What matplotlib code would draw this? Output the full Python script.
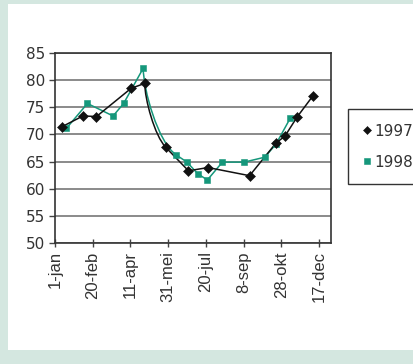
import numpy as np
import matplotlib
matplotlib.use("Agg")
import matplotlib.pyplot as plt
from matplotlib.path import Path
from matplotlib.patches import PathPatch, Rectangle
from matplotlib.lines import Line2D

# Day of year (1-jan = 0) and measured values
days_1997 = [9, 37, 55, 101, 119, 147, 177, 203, 258, 293, 305, 321, 342]
vals_1997 = [71.4, 73.4, 73.3, 78.5, 79.4, 67.6, 63.3, 63.9, 62.4, 68.4, 69.7, 73.2, 77.1]

days_1998 = [15, 43, 77, 91, 117, 161, 175, 189, 202, 222, 251, 278, 293, 312]
vals_1998 = [71.1, 75.7, 73.4, 75.7, 82.2, 66.2, 64.9, 62.8, 61.6, 64.9, 64.9, 65.8, 68.2, 73.0]

tick_days = [0, 50, 100, 150, 200, 250, 300, 350]
tick_labels = ["1-jan", "20-feb", "11-apr", "31-mei", "20-jul", "8-sep", "28-okt", "17-dec"]
y_ticks = [50, 55, 60, 65, 70, 75, 80, 85]

GREEN = "#15977b"
BG = "#d4e7e0"

W, H = 413, 364
fig = plt.figure(figsize=(W / 100, H / 100), dpi=100, facecolor=BG)
fig.patches.append(Rectangle((8 / W, 1 - 350 / H), 1, (350 - 4) / H,
                             transform=fig.transFigure, facecolor="white",
                             edgecolor="none", zorder=-10))

ax = fig.add_axes([55 / W, 1 - 243 / H, (331 - 55) / W, (243 - 53) / H])
ax.set_facecolor("white")
ax.set_xlim(0, 366)
ax.set_ylim(50, 85)


def series_path(xs, ys, ease=0.24):
    """Straight segments, with an easing curve on the drop after the peak."""
    pts = ax.transData.transform(np.column_stack([xs, ys]).astype(float))
    peak = int(np.argmax(ys))
    verts = [pts[0]]
    codes = [Path.MOVETO]
    for i in range(len(pts) - 1):
        p1, p2 = pts[i], pts[i + 1]
        if i == peak and i + 2 < len(pts):
            chord = np.hypot(*(p2 - p1))
            nxt = pts[i + 2] - p2
            nxt = nxt / np.hypot(*nxt)
            c1 = p1 + np.array([0.0, ease * (p2[1] - p1[1])])
            c2 = p2 - ease * chord * nxt
            verts += [c1, c2, p2]
            codes += [Path.CURVE4] * 3
        else:
            verts.append(p2)
            codes.append(Path.LINETO)
    verts = ax.transData.inverted().transform(np.array(verts))
    return Path(verts, codes)


for xs, ys, col, mk, ms in [(days_1998, vals_1998, GREEN, "s", 5.0),
                            (days_1997, vals_1997, "#111111", "D", 4.6)]:
    ax.add_patch(PathPatch(series_path(xs, ys), fill=False, edgecolor=col,
                           lw=1.1, zorder=3))
    ax.plot(xs, ys, linestyle="none", marker=mk, markersize=ms,
            markeredgewidth=0.4, color=col, markeredgecolor=col, zorder=4)

ax.set_yticks(y_ticks)
ax.set_yticklabels([str(v) for v in y_ticks], fontsize=11, family="DejaVu Sans",
                   color="#333333")
ax.set_xticks(tick_days)
ax.set_xticklabels(tick_labels, rotation=90, fontsize=12,
                   family="Liberation Sans", color="#333333")
ax.tick_params(axis="x", direction="inout", length=6, width=1, color="#444444", pad=3)
ax.tick_params(axis="y", direction="out", length=4, width=1, color="#444444", pad=3)
ax.grid(axis="y", color="#8a8a8a", lw=1.4)
ax.set_axisbelow(True)
for s in ax.spines.values():
    s.set_color("#333333")
    s.set_linewidth(1.2)

handles = [Line2D([], [], linestyle="none", marker="D", markersize=4,
                  markeredgewidth=0.4, color="#111111"),
           Line2D([], [], linestyle="none", marker="s", markersize=4.4,
                  markeredgewidth=0.4, color=GREEN)]
leg = fig.legend(handles, ["1997", "1998"], loc="upper left",
                 bbox_to_anchor=(348 / W, 1 - 109 / H), borderaxespad=0,
                 prop={"family": "DejaVu Sans", "size": 11},
                 handlelength=0.6, handletextpad=0.15, labelspacing=1.05,
                 borderpad=0.95, fancybox=False, framealpha=1)
leg.get_frame().set_edgecolor("#333333")
leg.get_frame().set_linewidth(1.0)
for t in leg.get_texts():
    t.set_color("#333333")

fig.savefig("out.png", dpi=100, facecolor=BG)
